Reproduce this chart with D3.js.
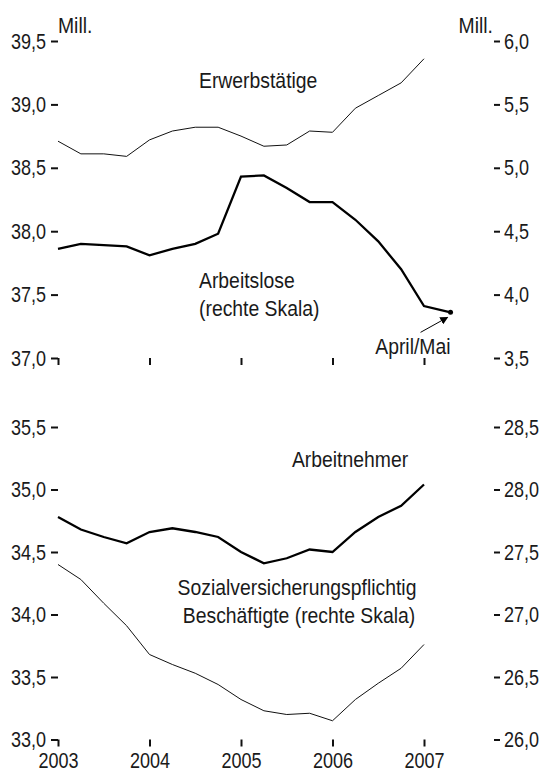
<!DOCTYPE html>
<html>
<head>
<meta charset="utf-8">
<script src="https://cdn.jsdelivr.net/npm/d3@7"></script>
<style>
  body { margin: 0; background: #fff; }
  svg text { font-family: "Liberation Sans", Arial, sans-serif; font-size: 22px; fill: #1a1a1a; }
  .tick line { stroke: #111; stroke-width: 2; }
  .thin { fill: none; stroke: #111; stroke-width: 1; }
  .thick { fill: none; stroke: #000; stroke-width: 2.3; }
</style>
</head>
<body>
<svg id="chart" width="545" height="771"></svg>
<script>
// quarterly values, 2003 Q1 .. 2007 Q1
var quarters = [2003.00, 2003.25, 2003.50, 2003.75, 2004.00, 2004.25, 2004.50, 2004.75,
                2005.00, 2005.25, 2005.50, 2005.75, 2006.00, 2006.25, 2006.50, 2006.75, 2007.00];

var erwerbstaetige = [38.71, 38.61, 38.61, 38.59, 38.72, 38.79, 38.82, 38.82, 38.75,
                      38.67, 38.68, 38.79, 38.78, 38.97, 39.07, 39.17, 39.36];
var arbeitslose = [4.36, 4.40, 4.39, 4.38, 4.31, 4.36, 4.40, 4.48, 4.93,
                   4.94, 4.84, 4.73, 4.73, 4.59, 4.42, 4.20, 3.91];
var aprilMai = {t: 2007.29, v: 3.86};

var arbeitnehmer = [34.78, 34.68, 34.62, 34.57, 34.66, 34.69, 34.66, 34.62, 34.50,
                    34.41, 34.45, 34.52, 34.50, 34.66, 34.78, 34.87, 35.04];
var sozialvers = [27.40, 27.28, 27.09, 26.91, 26.68, 26.60, 26.53, 26.44, 26.32,
                  26.23, 26.20, 26.21, 26.15, 26.32, 26.45, 26.57, 26.76];

var years = [2003, 2004, 2005, 2006, 2007];
var topLeftTicks = [37.0, 37.5, 38.0, 38.5, 39.0, 39.5];
var topRightTicks = [3.5, 4.0, 4.5, 5.0, 5.5, 6.0];
var botLeftTicks = [33.0, 33.5, 34.0, 34.5, 35.0, 35.5];
var botRightTicks = [26.0, 26.5, 27.0, 27.5, 28.0, 28.5];

var svg = d3.select("#chart");
var fmt = function(d) { return d3.format(".1f")(d).replace(".", ","); };

// no condensed face installed, so squeeze glyphs horizontally around the anchor
function condense(sel, k) {
  sel.each(function() {
    var t = d3.select(this);
    var tx = +t.attr("x") || 0, ty = +t.attr("y") || 0;
    t.attr("x", 0).attr("y", 0)
     .attr("transform", "translate(" + tx + "," + ty + ") scale(" + k + ",1)");
  });
}

var x = d3.scaleLinear().domain([2003, 2007]).range([58, 424]);
var yTopL = d3.scaleLinear().domain([37, 39.5]).range([358, 41]);
var yTopR = d3.scaleLinear().domain([3.5, 6.0]).range([358, 41]);
var yBotL = d3.scaleLinear().domain([33, 35.5]).range([739.5, 427]);
var yBotR = d3.scaleLinear().domain([26, 28.5]).range([739.5, 427]);

function leftAxis(g, scale, ticks) {
  g.attr("transform", "translate(58,0)")
    .call(d3.axisLeft(scale).tickValues(ticks).tickSize(7).tickPadding(5).tickFormat(fmt));
  g.select(".domain").remove();
}
function rightAxis(g, scale, ticks) {
  g.attr("transform", "translate(494,0)")
    .call(d3.axisRight(scale).tickValues(ticks).tickSize(6).tickPadding(4).tickFormat(fmt));
  g.select(".domain").remove();
}
function yearAxis(g, yPos, labels) {
  g.attr("transform", "translate(0," + yPos + ")")
    .call(d3.axisBottom(x).tickValues(years).tickSize(7).tickSizeOuter(0).tickPadding(6)
      .tickFormat(labels ? d3.format("d") : ""));
  g.select(".domain").remove();
}

svg.append("g").call(leftAxis, yTopL, topLeftTicks);
svg.append("g").call(rightAxis, yTopR, topRightTicks);
svg.append("g").call(yearAxis, yTopL(37), false);
svg.append("g").call(leftAxis, yBotL, botLeftTicks);
svg.append("g").call(rightAxis, yBotR, botRightTicks);
svg.append("g").call(yearAxis, yBotL(33), true);
svg.selectAll(".tick text").attr("fill", "#1a1a1a").style("font-size", "22px")
  .style("font-family", "\"Liberation Sans\", Arial, sans-serif")
  .call(condense, 0.82);

function label(xp, yp, txt, anchor) {
  return svg.append("text").attr("x", xp).attr("y", yp)
    .attr("text-anchor", anchor || "start").text(txt).call(condense, 0.88);
}

// Mill. labels
label(58, 33, "Mill.");
label(493, 33, "Mill.", "end");

function drawLine(values, yScale, cls, extra) {
  var pts = quarters.map(function(q, i) { return [q, values[i]]; });
  if (extra) pts.push([extra.t, extra.v]);
  svg.append("path")
    .datum(pts)
    .attr("class", cls)
    .attr("d", d3.line().x(function(d) { return x(d[0]); }).y(function(d) { return yScale(d[1]); }));
}

drawLine(erwerbstaetige, yTopL, "thin");
drawLine(arbeitslose, yTopR, "thick", aprilMai);
drawLine(arbeitnehmer, yBotL, "thick");
drawLine(sozialvers, yBotR, "thin");

// April/Mai point and arrow
var px = x(aprilMai.t), py = yTopR(aprilMai.v);
svg.append("circle").attr("cx", px).attr("cy", py).attr("r", 2.5).attr("fill", "#000");
svg.append("defs").append("marker")
    .attr("id", "head").attr("viewBox", "0 0 10 10").attr("refX", 9).attr("refY", 5)
    .attr("markerWidth", 8).attr("markerHeight", 8).attr("orient", "auto")
  .append("path").attr("d", "M0,0L10,5L0,10z").attr("fill", "#000");
svg.append("line")
  .attr("x1", px - 30).attr("y1", py + 20).attr("x2", px - 3).attr("y2", py + 5)
  .attr("stroke", "#000").attr("stroke-width", 1).attr("marker-end", "url(#head)");
label(px, py + 42, "April/Mai", "end");

// series labels
label(199, 88, "Erwerbstätige");
label(199, 288, "Arbeitslose");
label(199, 316, "(rechte Skala)");
label(350, 467, "Arbeitnehmer", "middle");
label(297, 595, "Sozialversicherungspflichtig", "middle");
label(299, 623, "Beschäftigte (rechte Skala)", "middle");
</script>
</body>
</html>
